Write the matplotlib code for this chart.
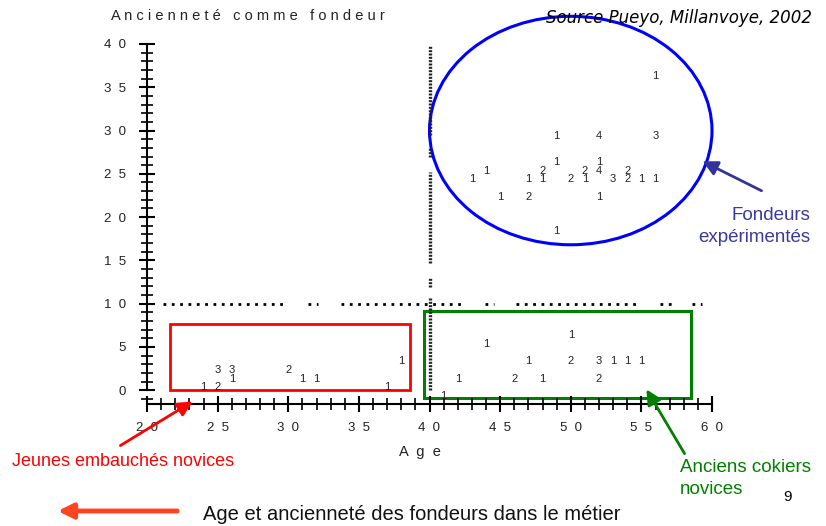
import matplotlib.pyplot as plt
from matplotlib.patches import Ellipse, Rectangle, FancyArrowPatch
from matplotlib.ticker import MultipleLocator

plt.rcParams['font.family'] = ['Liberation Sans', 'DejaVu Sans']

# age, years as founder, number of founders at that point
ages = [56, 49, 52, 56, 49, 52, 44, 48, 51, 52, 54, 43, 47, 48, 50, 51, 53, 54, 55, 56, 45, 47, 52, 49,
        24, 25, 25, 26, 26, 30, 31, 32, 38, 37,
        50, 44, 47, 50, 52, 53, 54, 55, 42, 46, 48, 52, 41]
years = [36, 29, 29, 29, 26, 26, 25, 25, 25, 25, 25, 24, 24, 24, 24, 24, 24, 24, 24, 24, 22, 22, 22, 18,
         0, 0, 2, 2, 1, 2, 1, 1, 3, 0,
         6, 5, 3, 3, 3, 3, 3, 3, 1, 1, 1, 1, -1]
counts = [1, 1, 4, 3, 1, 1, 1, 2, 2, 4, 2, 1, 1, 1, 2, 1, 3, 2, 1, 1, 1, 2, 1, 1,
          1, 2, 3, 3, 1, 2, 1, 1, 1, 1,
          1, 1, 1, 2, 3, 1, 1, 1, 1, 2, 1, 2, 1]

x_ticks = [20, 25, 30, 35, 40, 45, 50, 55, 60]
y_ticks = [0, 5, 10, 15, 20, 25, 30, 35, 40]

# dotted reference lines (age 40, 10 years), with the gaps of the original
h_segments = [(21.1, 29.9), (31.4, 32.1), (33.7, 42.3), (43.9, 44.6), (46.1, 54.8), (56.3, 57.2), (58.6, 59.3)]
v_segments = [(0, 10.6), (11.9, 13.1), (14.7, 25.2), (26.9, 28.0), (29.5, 39.9)]

fig = plt.figure(figsize=(8.26, 5.26), dpi=100)
ax = fig.add_axes([147 / 826, 1 - 404 / 526, 565 / 826, 360 / 526])
ax.set_xlim(20, 60)
ax.set_ylim(-1.6, 40)

for a, b in h_segments:
    ax.plot([a, b], [10, 10], color='black', lw=2, ls=(0, (1, 2)), solid_capstyle='butt')
for a, b in v_segments:
    ax.plot([40, 40], [a, b], color='#222222', lw=2.4, ls=(0, (0.6, 0.4)))

for x, y, n in zip(ages, years, counts):
    ax.text(x, y, str(n), ha='center', va='baseline', fontsize=8, color='#222222')

# groups
ax.add_patch(Ellipse((50, 30), 20, 26.4, fill=False, ec='#0000ff', lw=2.2, clip_on=False))
ax.add_patch(Rectangle((21.6, 0), 17, 7.7, fill=False, ec='#ff0000', lw=2, clip_on=False))
ax.add_patch(Rectangle((39.6, -0.96), 18.9, 10.1, fill=False, ec='#008000', lw=2.2, clip_on=False))

ax.spines['top'].set_visible(False)
ax.spines['right'].set_visible(False)
ax.spines['left'].set_bounds(0, 40)
ax.spines['left'].set_linewidth(1.5)
ax.spines['bottom'].set_linewidth(1.5)

ax.set_xticks(x_ticks)
ax.set_xticklabels(['  '.join(str(t)) for t in x_ticks])
ax.set_yticks(y_ticks)
ax.set_yticklabels(['  '.join(str(t)) for t in y_ticks])
ax.xaxis.set_minor_locator(MultipleLocator(1))
ax.yaxis.set_minor_locator(MultipleLocator(1))
ax.tick_params(which='major', direction='inout', length=12, width=1.5, labelsize=9.5, labelcolor='#222222')
ax.tick_params(which='minor', direction='inout', length=8, width=1.2)
ax.tick_params(axis='y', which='major', pad=9)
ax.tick_params(axis='x', which='major', pad=7)

fig.text(248 / 826, 1 - 16 / 526, 'A n c i e n n e t é   c o m m e   f o n d e u r',
         ha='center', va='center', fontsize=10.5, color='#222222')
fig.text(420 / 826, 1 - 452 / 526, 'A  g  e', ha='center', va='center', fontsize=10.5, color='#222222')
fig.text(812 / 826, 1 - 18 / 526, 'Source Pueyo, Millanvoye, 2002', ha='right', va='center',
         fontsize=12, style='italic', family='DejaVu Sans')

fig.text(12 / 826, 1 - 462 / 526, 'Jeunes embauchés novices', ha='left', va='center',
         fontsize=13, color='#ff0000')
fig.text(680 / 826, 1 - 467 / 526, 'Anciens cokiers', ha='left', va='center',
         fontsize=13.5, color='#008000')
fig.text(680 / 826, 1 - 489 / 526, 'novices', ha='left', va='center',
         fontsize=13.5, color='#008000')
fig.text(810 / 826, 1 - 215 / 526, 'Fondeurs', ha='right', va='center',
         fontsize=13.5, color='#3a3a9a')
fig.text(810 / 826, 1 - 238 / 526, 'expérimentés', ha='right', va='center',
         fontsize=13.5, color='#3a3a9a')
fig.text(203 / 826, 1 - 514 / 526, 'Age et ancienneté des fondeurs dans le métier', ha='left', va='center',
         fontsize=14.5, color='#111111')
fig.text(787 / 826, 1 - 497 / 526, '9', ha='center', va='center', fontsize=11)


def px(x, y):
    return (x / 826, 1 - y / 526)


arrows = [((118, 447), (195, 400), '#ff0000', 2),
          ((686, 456), (645, 387), '#008000', 2),
          ((764, 192), (700, 160), '#333399', 2),
          ((180, 511), (55, 511), '#ff4422', 3.5)]
for start, end, col, w in arrows:
    fig.patches.append(FancyArrowPatch(px(*start), px(*end), transform=fig.transFigure,
                                       arrowstyle='-|>,head_length=9,head_width=4.5', color=col, lw=w))

fig.savefig('out.png', dpi=100)
